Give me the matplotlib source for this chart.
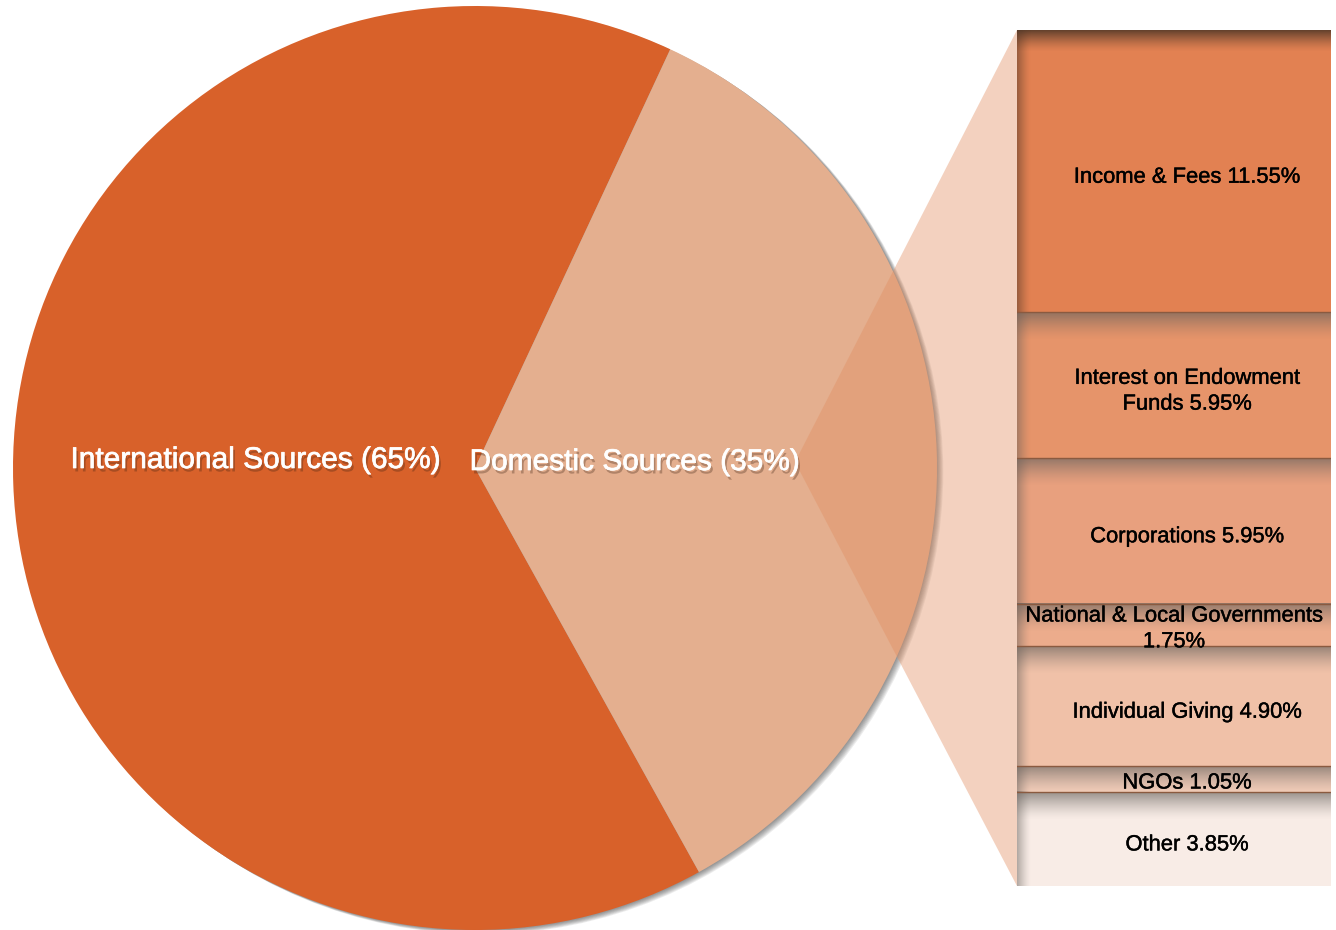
"""Funding sources: pie of international vs domestic, with domestic broken out as a stacked bar."""

import matplotlib

matplotlib.use("Agg")
import matplotlib.pyplot as plt
import matplotlib.patheffects as pe
import numpy as np
from matplotlib.patches import Circle, Polygon

# data
pie_labels = ["International Sources (65%)", "Domestic Sources (35%)"]
pie_values = [65, 35]
pie_colors = ["#D8612A", "#E4AF8F"]

bar_labels = [
    "Income & Fees 11.55%",
    "Interest on Endowment\nFunds 5.95%",
    "Corporations 5.95%",
    "National & Local Governments\n1.75%",
    "Individual Giving 4.90%",
    "NGOs 1.05%",
    "Other 3.85%",
]
bar_values = [11.55, 5.95, 5.95, 1.75, 4.90, 1.05, 3.85]
bar_colors = ["#E28152", "#E6946A", "#E8A07E", "#ECAC8C", "#F0C1A8", "#F3CDB9", "#F8ECE6"]

W, H = 1336, 930


def main() -> None:
    plt.rcParams["font.family"] = ["Liberation Sans", "DejaVu Sans"]
    fig = plt.figure(figsize=(W / 100, H / 100), dpi=100)
    fig.patch.set_facecolor("white")

    # main axes in pixel units (y up)
    ax = fig.add_axes([0, 0, 1, 1])
    cx, cy, r = 475, H - 468, 462

    # soft shadow behind the pie, mostly to the lower right
    for k in range(1, 8):
        ax.add_patch(Circle((cx + k * 0.9, cy - k * 0.6), r, color="#2e2e2e",
                            alpha=0.09, lw=0, zorder=1))

    wedges, _ = ax.pie(pie_values, colors=pie_colors, startangle=65,
                       center=(cx, cy), radius=r,
                       wedgeprops=dict(linewidth=0))
    for w in wedges:
        w.set_zorder(2)

    # translucent connector from pie to the bar
    ax.add_patch(Polygon([(795, H - 462), (1017, H - 30), (1017, H - 886)],
                         closed=True, facecolor="#E18E61", alpha=0.4, lw=0, zorder=3))

    shadow = [pe.SimplePatchShadow(offset=(1.5, -2.5), shadow_rgbFace="#3a2010", alpha=0.3),
              pe.Stroke(linewidth=0.5, foreground="white"),
              pe.Normal()]
    ax.text(256, H - 460, pie_labels[0], color="white", fontsize=21.5,
            ha="center", va="center", zorder=5, path_effects=shadow)
    ax.text(635, H - 462, pie_labels[1], color="white", fontsize=21.5,
            ha="center", va="center", zorder=5, path_effects=shadow)

    ax.set_xlim(0, W)
    ax.set_ylim(0, H)
    ax.set_aspect("auto")
    ax.axis("off")

    # stacked bar for the domestic breakdown
    bx0, bx1, by0, by1 = 1017, 1331, 30, 886
    axb = fig.add_axes([bx0 / W, (H - by1) / H, (bx1 - bx0) / W, (by1 - by0) / H])
    total = sum(bar_values)
    bottoms = np.concatenate([[0], np.cumsum(bar_values)[:-1]])
    axb.bar(0.5, bar_values, bottom=bottoms, width=1, color=bar_colors,
            edgecolor="none", zorder=1)

    px = (by1 - by0) / total  # pixels per unit
    left_depth = 14 / (bx1 - bx0)
    bold = [pe.Stroke(linewidth=0.3, foreground="black"), pe.Normal()]
    n = 64
    for i, (b, v) in enumerate(zip(bottoms, bar_values)):
        if i == 0:
            rgb, a0, depth = (0.30, 0.21, 0.15), 0.85, 22 / px
        else:
            rgb, a0, depth = (0.40, 0.38, 0.36), 0.65, 28 / px
        d = min(depth, v)
        t = np.linspace(0, d / depth, n)
        grad = np.zeros((n, 1, 4))
        grad[..., :3] = rgb
        grad[:, 0, 3] = a0 * (1 - t) ** 1.4
        axb.imshow(grad, extent=(0, 1, b + d, b), aspect="auto",
                   interpolation="bilinear", zorder=2)
        lg = np.zeros((1, n, 4))
        lg[..., :3] = rgb
        lg[0, :, 3] = 0.5 * np.linspace(1, 0, n) ** 1.4
        axb.imshow(lg, extent=(0, left_depth, b + v, b), aspect="auto",
                   interpolation="bilinear", zorder=2)
        if i > 0:
            axb.axhline(b, color="#8A5A40", lw=1, zorder=3)
        tx = 0.5 if "National" in bar_labels[i] else (1187 - bx0) / (bx1 - bx0)
        dy = 6 / px if v > 2 else 4 / px
        axb.text(tx, b + v / 2 + dy, bar_labels[i], fontsize=15.8, color="black",
                 ha="center", va="center", multialignment="center",
                 linespacing=1.3, zorder=4, path_effects=bold)
    axb.set_xlim(0, 1)
    axb.set_ylim(total, 0)
    axb.axis("off")

    fig.savefig("out.png", dpi=100, facecolor="white")


if __name__ == "__main__":
    main()
